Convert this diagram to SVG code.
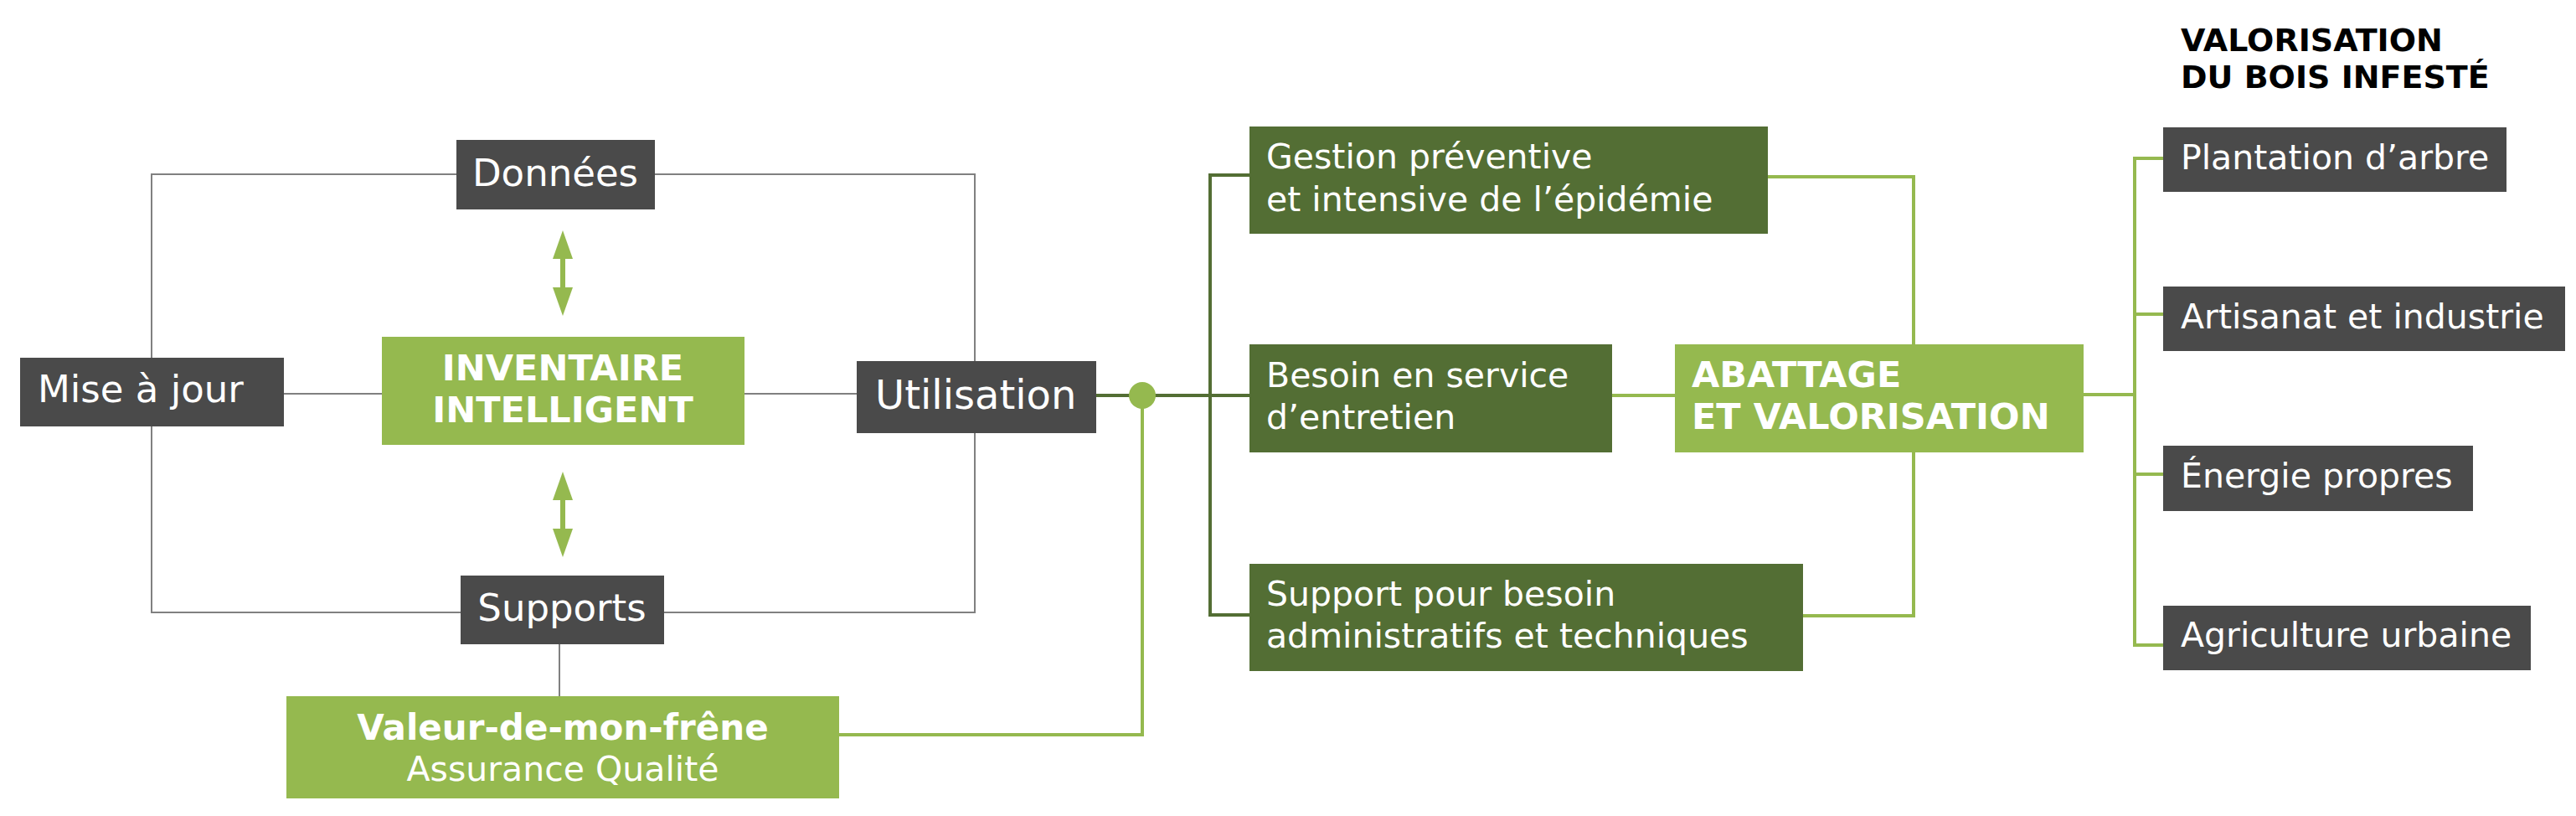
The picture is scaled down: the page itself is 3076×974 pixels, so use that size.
<svg xmlns="http://www.w3.org/2000/svg" width="3076" height="974" viewBox="0 0 3076 974">
<style>
text{font-family:"DejaVu Sans",Verdana,"Liberation Sans",sans-serif;fill:#fff}
.gray{fill:#4a4a4a}
.lg{fill:#95b94f}
.dg{fill:#536e34}
.t41{font-size:41px}
.t45{font-size:45px}
.b{font-weight:bold}
.c{text-anchor:middle}
.gl{stroke:#808080;stroke-width:2;fill:none}
.lgl{stroke:#95b94f;stroke-width:4;fill:none}
.dgl{stroke:#536e34;stroke-width:4;fill:none}
.arr{stroke:#95b94f;stroke-width:6;fill:none;marker-start:url(#ah);marker-end:url(#ah)}
</style>
<defs>
<marker id="ah" markerUnits="userSpaceOnUse" markerWidth="34" markerHeight="24" refX="4" refY="12" orient="auto-start-reverse" viewBox="0 0 34 24">
<path d="M0,0 L34,12 L0,24 Z" fill="#95b94f"/>
</marker>
</defs>
<rect width="3076" height="974" fill="#fff"/>
<g id="connectors">
<rect x="181" y="208" width="983" height="523" class="gl"/>
<line x1="339" y1="470" x2="456" y2="470" class="gl"/>
<line x1="889" y1="470" x2="1023" y2="470" class="gl"/>
<line x1="668" y1="769" x2="668" y2="831" class="gl" stroke-width="1.5"/>
<line x1="672" y1="305" x2="672" y2="347" class="arr"/>
<line x1="672" y1="593" x2="672" y2="635" class="arr"/>
<path d="M1309,472 H1492 M1492,209 H1445 V734 H1492" class="dgl"/>
<path d="M1002,877 H1364 V472" class="lgl"/>
<circle cx="1364" cy="472" r="16" fill="#95b94f"/>
<path d="M2111,211 H2285 V411 M1925,472 H2000 M2285,540 V735 H2153" class="lgl"/>
<path d="M2488,471 H2549 M2583,189 H2549 V770 H2583 M2549,375 H2583 M2549,566 H2583" class="lgl"/>
</g>
<g id="donnees"><rect x="545" y="167" width="237" height="83" class="gray"/><text x="663" y="222" class="t45 c">Données</text></g>
<g id="mise-a-jour"><rect x="24" y="427" width="315" height="82" class="gray"/><text x="45" y="480" class="t45">Mise à jour</text></g>
<g id="inventaire"><rect x="456" y="402" width="433" height="129" class="lg"/><text x="672" y="454" class="b c" font-size="43">INVENTAIRE</text><text x="672" y="504" class="b c" font-size="43">INTELLIGENT</text></g>
<g id="utilisation"><rect x="1023" y="431" width="286" height="86" class="gray"/><text x="1045" y="488" font-size="48">Utilisation</text></g>
<g id="supports"><rect x="550" y="687" width="243" height="82" class="gray"/><text x="671" y="741" class="t45 c">Supports</text></g>
<g id="valeur"><rect x="342" y="831" width="660" height="122" class="lg"/><text x="672" y="883" class="b c" font-size="42">Valeur-de-mon-frêne</text><text x="672" y="932" class="t41 c">Assurance Qualité</text></g>
<g id="gestion"><rect x="1492" y="151" width="619" height="128" class="dg"/><text x="1512" y="201" class="t41">Gestion préventive</text><text x="1512" y="252" class="t41">et intensive de l’épidémie</text></g>
<g id="besoin"><rect x="1492" y="411" width="433" height="129" class="dg"/><text x="1512" y="462" class="t41">Besoin en service</text><text x="1512" y="512" class="t41">d’entretien</text></g>
<g id="support-admin"><rect x="1492" y="673" width="661" height="128" class="dg"/><text x="1512" y="723" class="t41">Support pour besoin</text><text x="1512" y="773" class="t41">administratifs et techniques</text></g>
<g id="abattage"><rect x="2000" y="411" width="488" height="129" class="lg"/><text x="2020" y="462" class="b" font-size="43">ABATTAGE</text><text x="2020" y="512" class="b" font-size="43">ET VALORISATION</text></g>
<g id="titre"><text x="2604" y="61" class="b" font-size="38" style="fill:#000">VALORISATION</text><text x="2604" y="105" class="b" font-size="38" style="fill:#000">DU BOIS INFESTÉ</text></g>
<g id="plantation"><rect x="2583" y="152" width="410" height="77" class="gray"/><text x="2604" y="202" class="t41">Plantation d’arbre</text></g>
<g id="artisanat"><rect x="2583" y="342" width="480" height="77" class="gray"/><text x="2604" y="392" class="t41">Artisanat et industrie</text></g>
<g id="energie"><rect x="2583" y="532" width="370" height="78" class="gray"/><text x="2604" y="582" class="t41">Énergie propres</text></g>
<g id="agriculture"><rect x="2583" y="723" width="439" height="77" class="gray"/><text x="2604" y="772" class="t41">Agriculture urbaine</text></g>
</svg>
